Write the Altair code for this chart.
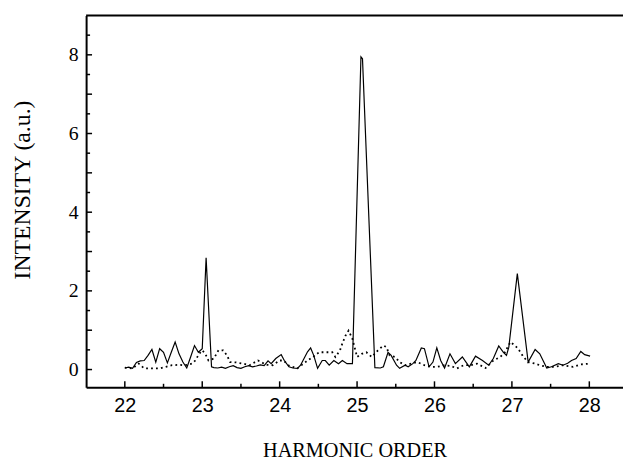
import altair as alt
import pandas as pd

# Solid curve (harmonic spectrum)
solid_x = [22.00, 22.05, 22.10, 22.15, 22.20, 22.25, 22.30, 22.35, 22.40, 22.45,
           22.50, 22.55, 22.60, 22.65, 22.70, 22.75, 22.80, 22.85, 22.90, 22.95,
           23.00, 23.05, 23.12, 23.15, 23.20, 23.25, 23.30, 23.35, 23.40, 23.45,
           23.50, 23.55, 23.60, 23.65, 23.70, 23.75, 23.80, 23.85, 23.89, 23.95,
           24.02, 24.06, 24.12, 24.17, 24.23, 24.27, 24.32, 24.36, 24.40, 24.44,
           24.49, 24.55, 24.59, 24.64, 24.70, 24.76, 24.81, 24.87, 24.94, 25.05,
           25.07, 25.23, 25.30, 25.34, 25.40, 25.44, 25.51, 25.55, 25.62, 25.66,
           25.72, 25.76, 25.83, 25.87, 25.93, 25.98, 26.03, 26.08, 26.13, 26.20,
           26.27, 26.36, 26.45, 26.53, 26.62, 26.70, 26.76, 26.83, 26.89, 26.93,
           26.96, 27.07, 27.21, 27.30, 27.36, 27.45, 27.51, 27.60, 27.66, 27.72,
           27.77, 27.83, 27.89, 27.94, 28.01]
solid_y = [0.04, 0.06, 0.03, 0.18, 0.22, 0.23, 0.36, 0.51, 0.19, 0.53,
           0.44, 0.17, 0.44, 0.70, 0.40, 0.19, 0.04, 0.32, 0.61, 0.44,
           0.53, 2.84, 0.07, 0.05, 0.04, 0.06, 0.03, 0.07, 0.10, 0.05,
           0.03, 0.07, 0.10, 0.07, 0.09, 0.12, 0.10, 0.22, 0.15, 0.28,
           0.38, 0.23, 0.07, 0.04, 0.03, 0.11, 0.30, 0.45, 0.55, 0.36,
           0.03, 0.23, 0.23, 0.11, 0.23, 0.15, 0.23, 0.15, 0.15, 7.95,
           7.90, 0.05, 0.04, 0.07, 0.44, 0.36, 0.11, 0.03, 0.11, 0.07,
           0.15, 0.23, 0.55, 0.53, 0.07, 0.19, 0.55, 0.23, 0.04, 0.40,
           0.15, 0.32, 0.07, 0.34, 0.23, 0.11, 0.28, 0.60, 0.44, 0.36,
           0.57, 2.44, 0.19, 0.51, 0.40, 0.04, 0.07, 0.15, 0.11, 0.16,
           0.23, 0.28, 0.46, 0.38, 0.34]

# Dotted curve
dot_x = [22.00, 22.10, 22.18, 22.25, 22.35, 22.45, 22.53, 22.61, 22.70, 22.78,
         22.87, 22.91, 22.96, 23.00, 23.04, 23.08, 23.15, 23.21, 23.27, 23.32,
         23.36, 23.44, 23.53, 23.61, 23.72, 23.83, 23.91, 24.00, 24.05, 24.12,
         24.23, 24.36, 24.45, 24.51, 24.59, 24.68, 24.72, 24.78, 24.80, 24.85,
         24.89, 24.94, 25.00, 25.06, 25.12, 25.19, 25.27, 25.34, 25.38, 25.42,
         25.49, 25.55, 25.62, 25.70, 25.78, 25.87, 25.96, 26.04, 26.13, 26.21,
         26.29, 26.38, 26.47, 26.55, 26.66, 26.76, 26.85, 26.91, 26.98, 27.04,
         27.08, 27.15, 27.21, 27.30, 27.36, 27.45, 27.55, 27.66, 27.79, 27.89,
         28.00]
dot_y = [0.05, 0.03, 0.15, 0.03, 0.03, 0.03, 0.07, 0.11, 0.12, 0.11,
         0.15, 0.23, 0.40, 0.49, 0.40, 0.23, 0.28, 0.49, 0.49, 0.36,
         0.19, 0.18, 0.15, 0.11, 0.23, 0.12, 0.11, 0.23, 0.23, 0.10,
         0.03, 0.23, 0.35, 0.44, 0.44, 0.44, 0.32, 0.49, 0.61, 0.86,
         0.99, 0.78, 0.32, 0.40, 0.44, 0.32, 0.49, 0.61, 0.57, 0.36,
         0.32, 0.19, 0.11, 0.15, 0.19, 0.11, 0.07, 0.07, 0.11, 0.09,
         0.03, 0.11, 0.11, 0.15, 0.04, 0.23, 0.32, 0.44, 0.70, 0.61,
         0.53, 0.32, 0.19, 0.15, 0.11, 0.07, 0.07, 0.11, 0.07, 0.13,
         0.15]

x_labels = [22, 23, 24, 25, 26, 27, 28]
x_minor = [22.5, 23.5, 24.5, 25.5, 26.5, 27.5]
y_labels = [0, 2, 4, 6, 8]
y_major = [0, 1, 2, 3, 4, 5, 6, 7, 8]
y_minor = [0.5, 1.5, 2.5, 3.5, 4.5, 5.5, 6.5, 7.5, 8.5]

W, H = 543, 376
xs = alt.Scale(domain=[21.5, 28.435], nice=False, zero=False)
ys = alt.Scale(domain=[-0.45, 9.0], nice=False, zero=False)

solid = pd.DataFrame({"x": solid_x, "y": solid_y})
dotted = pd.DataFrame({"x": dot_x, "y": dot_y})

xaxis = alt.Axis(values=x_labels, format="d", ticks=False, grid=False,
                 domainColor="black", domainWidth=2,
                 labelFont="Liberation Sans", labelFontSize=20, labelColor="black",
                 labelPadding=9,
                 title="HARMONIC ORDER", titleFont="Liberation Serif",
                 titleFontSize=20.5, titleFontWeight="normal", titleColor="black",
                 titleBaseline="alphabetic", titleY=70)
yaxis = alt.Axis(values=y_labels, format="d", ticks=False, grid=False,
                 domainColor="black", domainWidth=2,
                 labelFont="Liberation Serif", labelFontSize=20, labelColor="black",
                 labelPadding=8,
                 title="INTENSITY (a.u.)", titleFont="Liberation Serif",
                 titleFontSize=24, titleFontWeight="normal", titleColor="black",
                 titleBaseline="middle", titleAlign="center", titleX=-64, titleY=176)

X = alt.X("x:Q", scale=xs, axis=xaxis)
Y = alt.Y("y:Q", scale=ys, axis=yaxis)

solid_layer = alt.Chart(solid).mark_line(color="black", strokeWidth=1.2).encode(x=X, y=Y)
dot_layer = alt.Chart(dotted).mark_line(color="black", strokeWidth=1.8,
                                        strokeDash=[1.8, 3.2]).encode(x=X, y=Y)

xmaj = alt.Chart(pd.DataFrame({"x": x_labels})).mark_rule(color="black", strokeWidth=1.5).encode(
    x=X, y=alt.value(H), y2=alt.value(H - 6))
xmin = alt.Chart(pd.DataFrame({"x": x_minor})).mark_rule(color="black", strokeWidth=1.5).encode(
    x=X, y=alt.value(H), y2=alt.value(H - 3.5))
ymaj = alt.Chart(pd.DataFrame({"y": y_major})).mark_rule(color="black", strokeWidth=1.5).encode(
    y=Y, x=alt.value(0), x2=alt.value(6))
ymin = alt.Chart(pd.DataFrame({"y": y_minor})).mark_rule(color="black", strokeWidth=1.5).encode(
    y=Y, x=alt.value(0), x2=alt.value(4))
top = alt.Chart(pd.DataFrame({"y": [9.0]})).mark_rule(color="black", strokeWidth=2).encode(
    y=Y, x=alt.value(0), x2=alt.value(W))

chart = alt.layer(solid_layer, dot_layer, xmaj, xmin, ymaj, ymin, top).properties(
    width=W, height=H,
    autosize=alt.AutoSizeParams(type="none"),
    padding={"left": 79, "top": 5, "right": 0, "bottom": 71},
    background="white",
).configure_view(stroke=None)

chart.save("out.html", embed_options={"renderer": "svg", "actions": False})
